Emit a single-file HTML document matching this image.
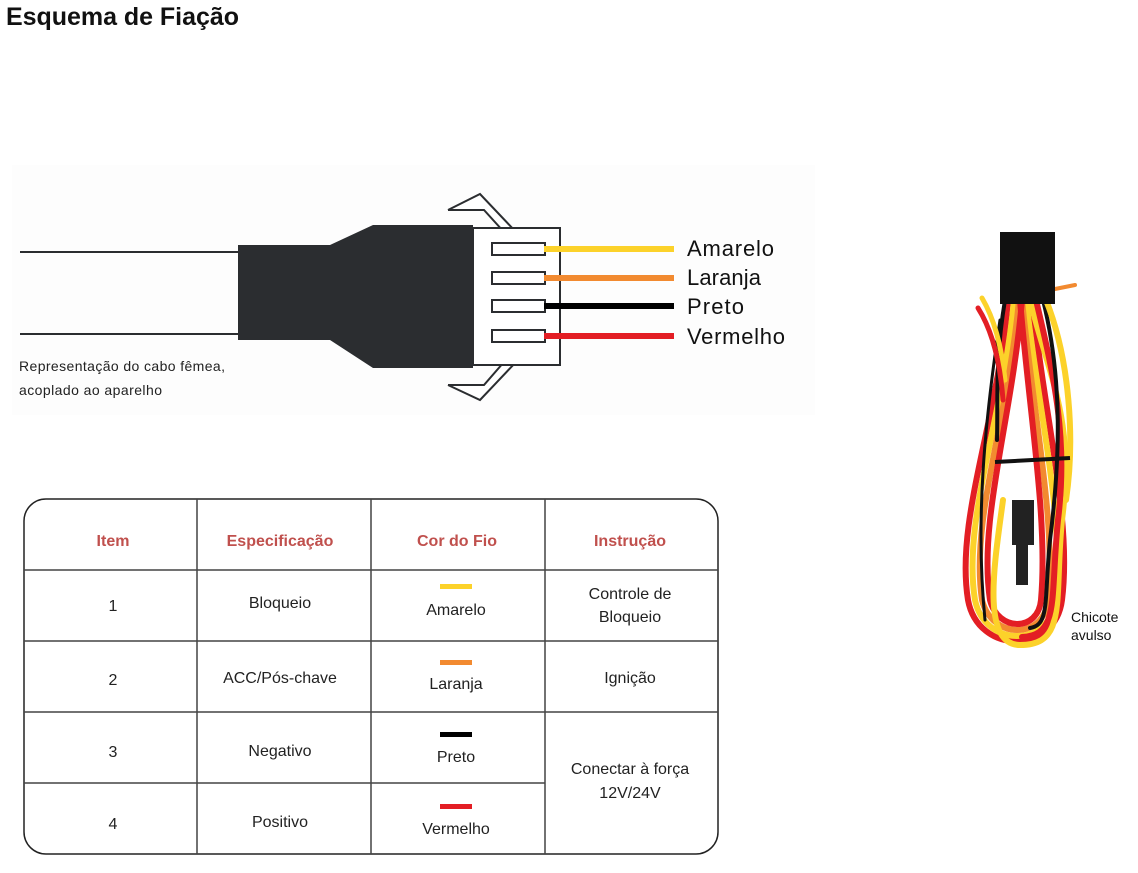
<!DOCTYPE html>
<html><head><meta charset="utf-8"><style>
html,body{margin:0;padding:0;background:#fff;}
svg{display:block;}
text{font-family:"Liberation Sans",sans-serif;}
</style></head><body>
<svg width="1138" height="873" viewBox="0 0 1138 873" xmlns="http://www.w3.org/2000/svg">
<text x="6" y="25" font-size="25" font-weight="bold" fill="#111" textLength="233">Esquema de Fiação</text>
<rect x="12" y="165" width="803" height="250" fill="#fdfdfd"/>
<line x1="20" y1="252" x2="240" y2="252" stroke="#2b2d30" stroke-width="2"/>
<line x1="20" y1="334" x2="240" y2="334" stroke="#2b2d30" stroke-width="2"/>
<polyline points="448,210 480,194 516,232 504,232 484,210 448,210" fill="#fff" stroke="#2b2d30" stroke-width="2"/>
<polyline points="448,385 480,400 516,362 504,362 484,385 448,385" fill="#fff" stroke="#2b2d30" stroke-width="2"/>
<rect x="473" y="228" width="87" height="137" fill="#fff" stroke="#2b2d30" stroke-width="2"/>
<polygon points="238,245 330,245 373,225 473,225 473,368 373,368 330,340 238,340" fill="#2b2d30"/>
<g stroke="#2b2d30" stroke-width="2" fill="#fff">
<rect x="492" y="243" width="53" height="12"/>
<rect x="492" y="272" width="53" height="12"/>
<rect x="492" y="300" width="53" height="12"/>
<rect x="492" y="330" width="53" height="12"/>
</g>
<line x1="544" y1="249" x2="674" y2="249" stroke="#fcd22a" stroke-width="6"/>
<line x1="544" y1="278" x2="674" y2="278" stroke="#f28a30" stroke-width="6"/>
<line x1="544" y1="306" x2="674" y2="306" stroke="#000" stroke-width="6"/>
<line x1="544" y1="336" x2="674" y2="336" stroke="#e31e24" stroke-width="6"/>
<g font-size="22" fill="#111">
<text x="687" y="256" textLength="87">Amarelo</text>
<text x="687" y="285" textLength="74">Laranja</text>
<text x="687" y="314" textLength="57">Preto</text>
<text x="687" y="344" textLength="98">Vermelho</text>
</g>
<g font-size="14" fill="#222">
<text x="19" y="371" textLength="206">Representação do cabo fêmea,</text>
<text x="19" y="395" textLength="143">acoplado ao aparelho</text>
</g>

<rect x="24" y="499" width="694" height="355" rx="22" ry="22" fill="#fff" stroke="#222" stroke-width="1.5"/>
<g stroke="#444" stroke-width="1.5">
<line x1="197" y1="499" x2="197" y2="854"/>
<line x1="371" y1="499" x2="371" y2="854"/>
<line x1="545" y1="499" x2="545" y2="854"/>
<line x1="24" y1="570" x2="718" y2="570"/>
<line x1="24" y1="641" x2="718" y2="641"/>
<line x1="24" y1="712" x2="718" y2="712"/>
<line x1="24" y1="783" x2="545" y2="783"/>
</g>
<g font-size="16" font-weight="bold" fill="#c0504d" text-anchor="middle">
<text x="113" y="546">Item</text>
<text x="280" y="546">Especificação</text>
<text x="457" y="546">Cor do Fio</text>
<text x="630" y="546">Instrução</text>
</g>
<g font-size="16" fill="#222" text-anchor="middle">
<text x="113" y="611">1</text>
<text x="113" y="685">2</text>
<text x="113" y="757">3</text>
<text x="113" y="829">4</text>
<text x="280" y="608">Bloqueio</text>
<text x="280" y="683">ACC/Pós-chave</text>
<text x="280" y="756">Negativo</text>
<text x="280" y="827">Positivo</text>
<text x="456" y="615">Amarelo</text>
<text x="456" y="689">Laranja</text>
<text x="456" y="762">Preto</text>
<text x="456" y="834">Vermelho</text>
<text x="630" y="599">Controle de</text>
<text x="630" y="622">Bloqueio</text>
<text x="630" y="683">Ignição</text>
<text x="630" y="774">Conectar à força</text>
<text x="630" y="798">12V/24V</text>
</g>
<rect x="440" y="584" width="32" height="5" fill="#fcd22a"/>
<rect x="440" y="660" width="32" height="5" fill="#f28a30"/>
<rect x="440" y="732" width="32" height="5" fill="#000"/>
<rect x="440" y="804" width="32" height="5" fill="#e31e24"/>

<!-- harness -->
<g fill="none" stroke-linecap="round" stroke-width="6">
<path d="M1008 300 C998 420 955 520 968 600 C978 655 1055 655 1062 600 C1072 520 1045 420 1032 300" stroke="#e31e24"/>
<path d="M1014 300 C1003 420 962 520 975 600 C985 648 1050 648 1055 600 C1065 520 1040 420 1026 300" stroke="#fcd22a"/>
<path d="M1019 300 C1008 420 970 520 982 600 C992 640 1044 640 1048 600 C1056 520 1034 420 1022 300" stroke="#f28a30"/>
<path d="M1022 300 C1012 420 978 520 990 600 C998 632 1038 632 1041 600 C1048 520 1030 420 1020 300" stroke="#e31e24"/>
<path d="M1030 300 C1050 380 1075 420 1062 520 C1054 600 1068 645 1020 645 C980 645 995 560 1003 500" stroke="#fcd22a"/>
<path d="M1036 300 C1055 380 1068 440 1058 520 C1050 600 1060 635 1022 637" stroke="#e31e24"/>
<path d="M1043 300 C1063 380 1060 460 1050 540 C1044 600 1050 625 1030 628" stroke="#111" stroke-width="4"/>
<path d="M1046 300 C1070 360 1075 440 1066 500" stroke="#fcd22a"/>
<path d="M1005 300 C995 360 998 400 997 440" stroke="#111" stroke-width="4"/>
<path d="M1000 320 C985 420 975 520 985 620" stroke="#111" stroke-width="3"/>
<path d="M982 298 C995 320 1002 350 1005 380" stroke="#fcd22a" stroke-width="5"/>
<path d="M978 308 C992 330 1000 360 1003 400" stroke="#e31e24" stroke-width="5"/>
<path d="M1050 290 L1075 285" stroke="#f28a30" stroke-width="4"/>
</g>
<rect x="1000" y="232" width="55" height="72" fill="#111"/>
<rect x="1012" y="500" width="22" height="45" fill="#222"/>
<rect x="1016" y="545" width="12" height="40" fill="#222"/>
<line x1="995" y1="462" x2="1070" y2="458" stroke="#111" stroke-width="4"/>
<g font-size="14" fill="#111">
<text x="1071" y="622">Chicote</text>
<text x="1071" y="640">avulso</text>
</g>
</svg>
</body></html>
